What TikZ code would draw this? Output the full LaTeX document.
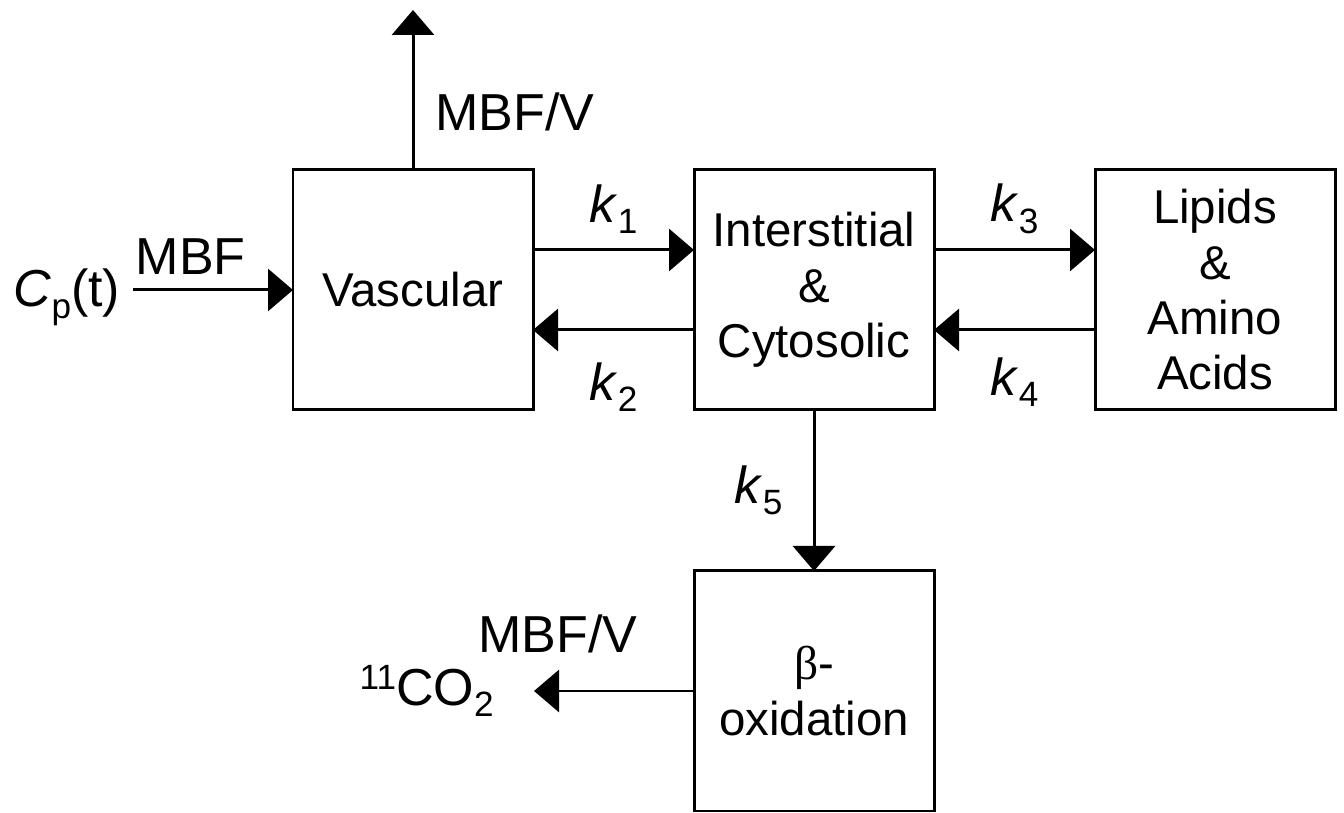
\documentclass[tikz,border=0pt]{standalone}
\usepackage{fontspec}
\setmainfont{Liberation Sans}
\newfontfamily\greekfont{Liberation Serif}
\usetikzlibrary{positioning,arrows.meta}

\newcommand{\subfont}{\fontsize{20}{20}\selectfont}
\newcommand{\rk}[1]{\textit{k}\raisebox{-6.5pt}{\subfont #1}}

\begin{document}
\begin{tikzpicture}[
    node distance=3.22cm,
    compartment/.style={rectangle, draw, line width=1.7pt, minimum width=4.8cm, minimum height=4.8cm, align=center, inner sep=0pt, outer sep=0pt, font=\fontsize{27}{31.5}\selectfont},
    arrow/.style={-{Triangle[length=5mm,width=8.4mm]}, line width=1.7pt},
    rate/.style={inner sep=0pt, font=\fontsize{29.6}{30}\selectfont}
]
\useasboundingbox (0,0) rectangle (26.88,16.26);

% Compartments
\node[compartment] (vasc) at (8.26,10.46) {Vascular};
\node[compartment, right=of vasc] (inter) {Interstitial\\\&\\Cytosolic};
\node[compartment, right=of inter] (lipid) {Lipids\\\&\\Amino\\Acids};
\node[compartment, below=of inter] (beta) {{\greekfont β}-\\oxidation};

% Free ends
\coordinate[left=3.2cm of vasc.west] (cin);
\coordinate[above=3.2cm of vasc.north] (vout);
\coordinate[left=3.2cm of beta.west] (co2);

% Input and outflow
\draw[arrow] (cin) -- (vasc.west) node[rate, pos=0.36, above=0.28cm] (mbf) {MBF};
\node[rate, left=0.25cm of cin, yshift=-0.15cm] (cp) {\textit{C}\raisebox{-6.5pt}{\subfont p}(t)};
\draw[arrow] (vasc.north) -- (vout) node[rate, pos=0.36, right=0.42cm] (mbfv) {MBF/V};

% Exchange between compartments
\draw[arrow] ([yshift=0.8cm]vasc.east) -- ([yshift=0.8cm]inter.west) node[rate, midway, above=0.3cm] (k1) {\rk{1}};
\draw[arrow] ([yshift=-0.8cm]inter.west) -- ([yshift=-0.8cm]vasc.east) node[rate, midway, below=0.62cm] (k2) {\rk{2}};
\draw[arrow] ([yshift=0.8cm]inter.east) -- ([yshift=0.8cm]lipid.west) node[rate, midway, above=0.3cm] (k3) {\rk{3}};
\draw[arrow] ([yshift=-0.8cm]lipid.west) -- ([yshift=-0.8cm]inter.east) node[rate, midway, below=0.52cm] (k4) {\rk{4}};
\draw[arrow] (inter.south) -- (beta.north) node[rate, midway, left=0.6cm] (k5) {\rk{5}};

% Oxidation product
\draw[arrow] (beta.west) -- (co2) node[rate, pos=0.85, above=0.72cm] (mbfv2) {MBF/V};
\node[rate, left=0.8cm of co2] (prod) {\raisebox{9pt}{\subfont 11}CO\raisebox{-6.5pt}{\subfont 2}};

\end{tikzpicture}
\end{document}
